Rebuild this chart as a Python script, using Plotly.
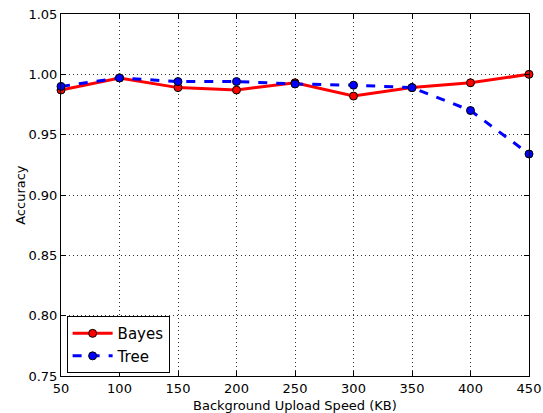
import plotly.graph_objects as go

speeds = [50, 100, 150, 200, 250, 300, 350, 400, 450]
bayes = [0.987, 0.997, 0.989, 0.987, 0.993, 0.982, 0.989, 0.993, 1.000]
tree = [0.990, 0.997, 0.994, 0.994, 0.992, 0.991, 0.989, 0.970, 0.934]

y_ticks = [0.75, 0.80, 0.85, 0.90, 0.95, 1.00, 1.05]
x_ticks = [50, 100, 150, 200, 250, 300, 350, 400, 450]

fig = go.Figure()
fig.add_trace(go.Scatter(
    x=speeds, y=bayes, name="Bayes", mode="lines+markers",
    line=dict(color="#ff0000", width=3),
    marker=dict(color="#ff0000", size=8, line=dict(color="black", width=1)),
    cliponaxis=False,
))
fig.add_trace(go.Scatter(
    x=speeds, y=tree, name="Tree", mode="lines+markers",
    line=dict(color="#0000ff", width=3, dash="dash"),
    marker=dict(color="#0000ff", size=8, line=dict(color="black", width=1)),
    cliponaxis=False,
))

axis_common = dict(
    showline=True, linecolor="black", linewidth=1, mirror="allticks",
    ticks="inside", ticklen=5, tickcolor="black",
    showgrid=True, gridcolor="#333333", griddash="1px,3px", gridwidth=1,
    zeroline=False, automargin=False,
    tickfont=dict(family="DejaVu Sans", size=13, color="black"),
)

# axis titles placed as paper-anchored annotations for exact positioning
axis_titles = [
    dict(text="Background Upload Speed (KB)", x=0.5, y=-0.059,
         xref="paper", yref="paper", xanchor="center", yanchor="top",
         showarrow=False, borderpad=0, font=dict(size=13)),
    dict(text="Accuracy", x=-0.088, y=0.5, textangle=-90,
         xref="paper", yref="paper", xanchor="center", yanchor="middle",
         showarrow=False, font=dict(size=13)),
]

fig.update_layout(
    width=543, height=413,
    margin=dict(l=61, r=14, t=14, b=37),
    paper_bgcolor="white", plot_bgcolor="white",
    font=dict(family="DejaVu Sans", color="black"),
    xaxis=dict(range=[50, 450], tickvals=x_ticks, **axis_common),
    yaxis=dict(range=[0.75, 1.05], tickvals=y_ticks, tickformat=".2f",
               **axis_common),
    annotations=axis_titles,
    legend=dict(x=0.012, y=0.008, xanchor="left", yanchor="bottom",
                bordercolor="black", borderwidth=1, bgcolor="white",
                font=dict(size=15), itemwidth=40, tracegroupgap=0),
    showlegend=True,
)

fig.write_html("out.html")
